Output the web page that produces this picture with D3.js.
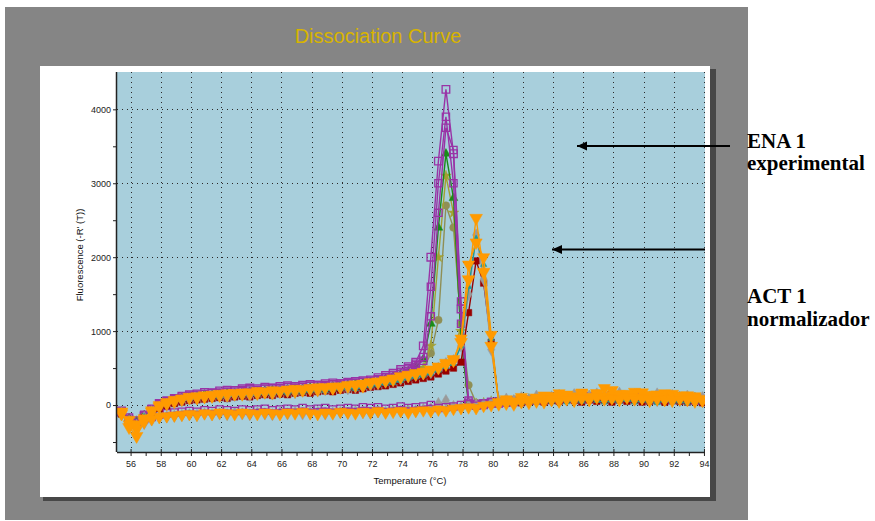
<!DOCTYPE html>
<html lang="en">
<head>
    <meta charset="UTF-8">
    <script src="https://d3js.org/d3.v7.min.js"></script>
    <title>Dissociation Curve</title>
    <style>
        body { margin: 0; background: #fff; }
        svg { display: block; }
    </style>
</head>
<body>
    <div id="chart"></div>
    <script>
        // temperatures (°C) of the read-out points
        const temps = [55.4,55.9,56.4,56.9,57.4,57.9,58.4,58.9,59.4,59.9,60.4,60.9,61.4,61.9,62.4,62.9,63.4,63.9,64.4,64.9,
            65.4,65.9,66.4,66.9,67.4,67.9,68.4,68.9,69.4,69.9,70.4,70.9,71.4,71.9,72.4,72.9,73.4,73.9,74.4,74.9,
            75.4,75.9,76.4,76.9,77.4,77.9,78.4,78.9,79.4,79.9,80.4,80.9,81.4,81.9,82.4,82.9,83.4,83.9,84.4,84.9,
            85.4,85.9,86.4,86.9,87.4,87.9,88.4,88.9,89.4,89.9,90.4,90.9,91.4,91.9,92.4,92.9,93.4,93.9];

        // ENA 1 wells (peak ~76.9)
        const enaPurpleA = [-80,-200,-260,-150,-60,20,60,90,120,140,
            150,170,160,190,200,190,220,230,220,240,
            230,250,260,250,270,280,270,290,300,290,
            310,320,330,340,370,400,430,480,520,580,
            800,2000,3300,4270,3400,1300,30,10,20,40,
            30,60,50,80,70,90,80,110,90,120,
            100,110,90,120,100,130,110,100,120,90,
            110,100,80,110,90,100,70,80];
        const enaPurpleB = [-100,-220,-240,-130,-50,10,50,80,100,130,
            140,150,170,160,180,200,190,210,200,220,
            230,220,240,250,240,260,270,260,280,290,
            300,300,320,330,350,380,410,450,500,560,
            650,1600,3000,3900,3000,1100,20,-10,0,20,
            40,30,60,50,70,60,90,80,100,90,
            110,100,120,90,110,100,90,120,100,110,
            80,100,90,70,100,80,90,60];
        const enaPurpleC = [-90,-210,-250,-140,-60,0,40,70,100,120,
            130,150,140,170,180,170,200,210,200,220,
            210,230,240,230,250,260,250,270,280,270,
            290,300,310,320,340,370,400,440,490,540,
            600,1200,2600,3750,3450,1400,60,0,10,30,
            20,50,40,70,60,80,70,100,80,110,
            90,100,80,110,90,120,100,90,110,80,
            100,90,70,100,80,90,60,70];
        const enaGreen = [-90,-180,-230,-140,-70,0,40,70,90,110,
            120,140,130,150,160,150,170,180,170,190,
            200,190,210,220,210,230,240,230,250,260,
            270,280,290,310,330,350,380,410,450,520,
            620,1100,2400,3400,2800,900,10,0,20,10,
            40,30,50,60,50,70,80,60,90,80,
            100,70,90,100,80,110,90,80,100,90,
            70,90,80,100,70,90,80,60];
        const enaStar = [-110,-200,-220,-150,-90,-20,20,50,80,100,
            110,120,140,130,150,160,150,170,180,170,
            190,200,190,210,220,230,220,240,250,260,
            250,270,290,300,320,340,360,390,430,480,
            500,800,2000,3100,2600,1000,40,20,30,50,
            40,70,60,50,80,70,90,100,80,110,
            90,100,120,90,110,80,100,120,90,100,
            110,80,100,90,110,80,100,70];
        const enaCircle = [-100,-190,-210,-140,-80,-10,30,60,80,90,
            110,120,130,140,130,150,160,170,160,180,
            190,200,210,200,220,230,240,230,250,260,
            270,280,290,300,320,340,370,400,430,460,
            480,700,1150,2700,2400,1100,270,30,20,40,
            50,40,60,70,60,80,70,90,100,80,
            90,110,100,80,100,90,110,100,80,100,
            90,110,80,100,90,70,90,80];

        // ACT 1 wells (peak ~78.9)
        const actOrangeA = [-90,-300,-420,-200,-90,-20,20,50,80,110,
            100,130,120,150,140,160,150,170,160,180,
            170,190,200,190,210,220,210,240,230,250,
            260,270,260,300,310,330,350,380,400,430,
            440,480,520,570,620,850,1700,2530,1800,800,
            40,60,40,80,60,100,70,120,90,140,
            100,150,110,160,120,200,110,150,100,170,
            120,140,90,150,110,130,100,80];
        const actOrangeB = [-110,-260,-330,-180,-70,0,40,70,90,100,
            120,110,140,130,160,150,170,160,190,180,
            200,190,210,220,200,230,240,230,250,240,
            270,280,290,310,320,340,360,390,410,420,
            450,470,500,550,600,900,1900,2200,2000,950,
            30,80,50,110,70,90,130,80,160,100,
            120,170,90,140,230,110,150,120,180,100,
            140,110,160,100,130,90,120,70];
        const actTeal = [-100,-230,-300,-160,-80,-10,30,60,70,90,
            100,110,120,110,130,140,130,150,140,160,
            150,170,160,180,170,190,200,190,210,220,
            230,220,240,260,270,290,300,330,360,380,
            400,430,470,520,560,800,1600,2250,1900,900,
            30,20,40,30,50,40,60,50,70,40,
            60,50,70,60,40,60,50,70,40,60,
            50,30,60,40,50,30,50,40];
        const actGray = [-110,-250,-280,-170,-90,-30,10,40,60,80,
            90,100,110,120,110,130,140,130,150,160,
            150,170,180,170,190,200,190,210,220,230,
            220,240,250,270,290,310,330,350,380,400,
            420,440,500,560,600,800,1500,2300,1700,750,
            60,80,60,100,70,120,90,110,130,100,
            140,110,120,150,100,130,160,110,140,120,
            100,150,110,130,100,120,90,100];
        const actDarkRed = [-120,-220,-260,-170,-100,-50,-10,20,40,60,
            70,80,90,100,90,110,120,110,130,140,
            130,150,140,160,170,160,180,190,180,200,
            210,200,220,240,250,260,280,300,320,340,
            360,380,420,460,500,580,1250,1950,1650,850,
            50,40,60,30,50,70,40,60,50,80,
            60,40,70,50,60,40,70,50,60,40,
            50,70,40,60,50,40,60,30];

        // no-template wells (flat)
        const ntcOrange = [-120,-200,-260,-230,-190,-160,-150,-140,-130,-120,
            -130,-110,-120,-100,-110,-120,-100,-110,-120,-100,
            -110,-120,-100,-110,-90,-110,-120,-100,-110,-90,
            -100,-110,-90,-100,-80,-100,-90,-80,-100,-80,
            -70,-80,-60,-70,-50,-40,-30,-40,-10,0,
            10,20,10,40,30,50,40,70,50,80,
            60,90,70,100,80,90,70,100,80,90,
            60,80,70,60,80,70,50,60];
        const ntcPurple = [-90,-170,-210,-190,-160,-130,-110,-100,-90,-80,
            -90,-70,-80,-60,-70,-80,-60,-70,-60,-50,
            -70,-60,-50,-60,-40,-60,-50,-40,-60,-50,
            -40,-50,-30,-40,-30,-50,-40,-20,-40,-30,
            -20,0,-40,-30,-20,0,10,-10,20,40,
            50,60,50,70,60,80,70,90,80,100,
            90,80,100,90,110,100,80,100,90,110,
            100,80,90,100,80,90,70,80];
        const ntcGray = [-130,-220,-280,-250,-200,-170,-160,-150,-140,-130,
            -140,-120,-130,-120,-130,-110,-120,-130,-110,-120,
            -130,-110,-120,-100,-120,-110,-100,-120,-110,-100,
            -110,-90,-100,-110,-90,-100,-80,-90,-70,-80,
            -60,-50,20,60,-20,-30,-10,0,10,30,
            20,40,50,40,60,50,70,60,80,70,
            90,80,70,90,80,100,90,80,70,90,
            80,60,70,80,60,70,60,50];

        const xTicks = [56,58,60,62,64,66,68,70,72,74,76,78,80,82,84,86,88,90,92,94];
        const yTicks = [0, 1000, 2000, 3000, 4000];

        // draw order + look of each well
        const series = [
            { v: enaCircle,  color: "#8f8f55", sym: d3.symbolCircle,   size: 45, fill: true },
            { v: enaStar,    color: "#a3a032", sym: d3.symbolStar,     size: 36, fill: true },
            { v: enaGreen,   color: "#1a8c1a", sym: d3.symbolTriangle, size: 34, fill: true },
            { v: enaPurpleC, color: "#9933a6", sym: d3.symbolSquare,   size: 52, fill: false },
            { v: enaPurpleB, color: "#9933a6", sym: d3.symbolSquare,   size: 52, fill: false },
            { v: enaPurpleA, color: "#9933a6", sym: d3.symbolSquare,   size: 58, fill: false },
            { v: ntcGray,    color: "#9a9a9a", sym: d3.symbolDiamond,  size: 44, fill: true },
            { v: ntcPurple,  color: "#9933a6", sym: d3.symbolSquare,   size: 52, fill: false },
            { v: actDarkRed, color: "#990000", sym: d3.symbolSquare,   size: 42, fill: true },
            { v: actGray,    color: "#9a9a9a", sym: d3.symbolDiamond,  size: 44, fill: true },
            { v: actTeal,    color: "#1a9a9a", sym: d3.symbolTriangle, size: 18, fill: true },
            { v: actOrangeB, color: "#ff9a00", sym: d3.symbolTriangle, size: 64, fill: true, down: true },
            { v: actOrangeA, color: "#ff9a00", sym: d3.symbolTriangle, size: 70, fill: true, down: true },
            { v: ntcOrange,  color: "#ff9a00", sym: d3.symbolTriangle, size: 64, fill: true, down: true }
        ];

        const W = 875, H = 521;
        const plot = { left: 117, right: 705, top: 72, bottom: 452 };

        const svg = d3.select("#chart").append("svg")
            .attr("width", W)
            .attr("height", H)
            .attr("font-family", "Liberation Sans, Arial, sans-serif");

        // gray frame + title
        svg.append("rect").attr("x", 5).attr("y", 7).attr("width", 743).attr("height", 513).attr("fill", "#858585");
        svg.append("text")
            .attr("x", 378).attr("y", 43)
            .attr("text-anchor", "middle")
            .attr("font-size", 20)
            .attr("fill", "#d8b400")
            .text("Dissociation Curve");

        // white panel with dark edge
        svg.append("rect").attr("x", 43).attr("y", 69).attr("width", 673).attr("height", 432).attr("fill", "#474747");
        svg.append("rect").attr("x", 40).attr("y", 66).attr("width", 670).attr("height", 431).attr("fill", "#fff");

        const x = d3.scaleLinear().domain([55.1, 94.07]).range([plot.left, plot.right]);
        const y = d3.scaleLinear().domain([-635, 4505]).range([plot.bottom, plot.top]);

        svg.append("rect")
            .attr("x", plot.left).attr("y", plot.top)
            .attr("width", plot.right - plot.left).attr("height", plot.bottom - plot.top)
            .attr("fill", "#a8cfdc");

        svg.append("clipPath").attr("id", "clip")
            .append("rect")
            .attr("x", plot.left).attr("y", plot.top)
            .attr("width", plot.right - plot.left).attr("height", plot.bottom - plot.top);

        // dotted grid
        const grid = svg.append("g").attr("stroke", "#2a2a2a").attr("stroke-width", 1).attr("stroke-dasharray", "1,4");
        grid.selectAll(".gx").data(xTicks).join("line")
            .attr("x1", d => Math.round(x(d)) + 0.5).attr("x2", d => Math.round(x(d)) + 0.5)
            .attr("y1", plot.top).attr("y2", plot.bottom);
        grid.selectAll(".gy").data(yTicks).join("line")
            .attr("y1", d => Math.round(y(d)) + 0.5).attr("y2", d => Math.round(y(d)) + 0.5)
            .attr("x1", plot.left).attr("x2", plot.right);

        // curves
        const g = svg.append("g").attr("clip-path", "url(#clip)");
        const line = d3.line().x((d, i) => x(temps[i])).y(d => y(d));

        series.forEach(s => {
            g.append("path")
                .datum(s.v)
                .attr("d", line)
                .attr("fill", "none")
                .attr("stroke", s.color)
                .attr("stroke-width", 1.4);
            const sym = d3.symbol().type(s.sym).size(s.size);
            g.append("g").selectAll("path").data(s.v).join("path")
                .attr("d", sym)
                .attr("transform", (d, i) => `translate(${x(temps[i])},${y(d)})` + (s.down ? " rotate(180)" : ""))
                .attr("fill", s.fill ? s.color : "none")
                .attr("stroke", s.color)
                .attr("stroke-width", s.fill ? 0.5 : 1.3);
        });

        // axes
        const xAxis = d3.axisBottom(x)
            .tickValues(d3.range(56, 95, 1))
            .tickSize(4)
            .tickFormat(d => d % 2 === 0 ? d : "");
        const xg = svg.append("g").attr("transform", `translate(0,${plot.bottom})`).call(xAxis);
        xg.attr("font-family", null);
        xg.select(".domain").attr("d", `M${plot.left},0.5H${plot.right}`).attr("stroke", "#222").attr("stroke-width", 1.5);
        xg.selectAll(".tick line").attr("stroke", "#222").attr("y1", d => d % 2 === 0 ? -3 : 0);
        xg.selectAll(".tick text").attr("font-size", 9).attr("fill", "#222").attr("dy", "0.9em");

        const yAxis = d3.axisLeft(y)
            .tickValues(d3.range(-500, 4001, 500))
            .tickSize(4)
            .tickFormat(d => d % 1000 === 0 ? d : "");
        const yg = svg.append("g").attr("transform", `translate(${plot.left},0)`).call(yAxis);
        yg.attr("font-family", null);
        yg.select(".domain").attr("d", `M-0.5,${plot.top}V${plot.bottom}`).attr("stroke", "#222").attr("stroke-width", 1.5);
        yg.selectAll(".tick line").attr("stroke", "#222");
        yg.selectAll(".tick text").attr("font-size", 9).attr("fill", "#222").attr("x", -6);

        svg.append("text")
            .attr("x", 410).attr("y", 484)
            .attr("text-anchor", "middle")
            .attr("font-size", 9.5)
            .attr("fill", "#111")
            .text("Temperature (°C)");
        svg.append("text")
            .attr("transform", "translate(83,255) rotate(-90)")
            .attr("text-anchor", "middle")
            .attr("font-size", 9.5)
            .attr("fill", "#111")
            .text("Fluorescence (-R' (T))");

        // annotations
        svg.append("defs").append("marker")
            .attr("id", "head")
            .attr("viewBox", "0 0 10 10")
            .attr("refX", 1).attr("refY", 5)
            .attr("markerUnits", "userSpaceOnUse")
            .attr("markerWidth", 11).attr("markerHeight", 8)
            .attr("orient", "auto")
            .append("path").attr("d", "M0,5 L10,0 L10,10 Z").attr("fill", "#000");

        const arrows = [
            { x1: 730, x2: 577, y: 146 },
            { x1: 705, x2: 552, y: 249.5 }
        ];
        svg.selectAll(".arrow").data(arrows).join("line")
            .attr("x1", d => d.x1).attr("x2", d => d.x2)
            .attr("y1", d => d.y).attr("y2", d => d.y)
            .attr("stroke", "#000").attr("stroke-width", 2);
        svg.selectAll(".head").data(arrows).join("path")
            .attr("d", d => `M${d.x2},${d.y} l10,-4.5 l0,9 Z`)
            .attr("fill", "#000");

        const notes = [
            { t: "ENA 1", y: 148 },
            { t: "experimental", y: 170 },
            { t: "ACT 1", y: 303 },
            { t: "normalizador", y: 326 }
        ];
        svg.selectAll(".note").data(notes).join("text")
            .attr("x", 747).attr("y", d => d.y)
            .attr("font-family", "Liberation Serif, Times New Roman, serif")
            .attr("font-weight", "bold")
            .attr("font-size", 21)
            .attr("fill", "#000")
            .text(d => d.t);
    </script>
</body>
</html>
